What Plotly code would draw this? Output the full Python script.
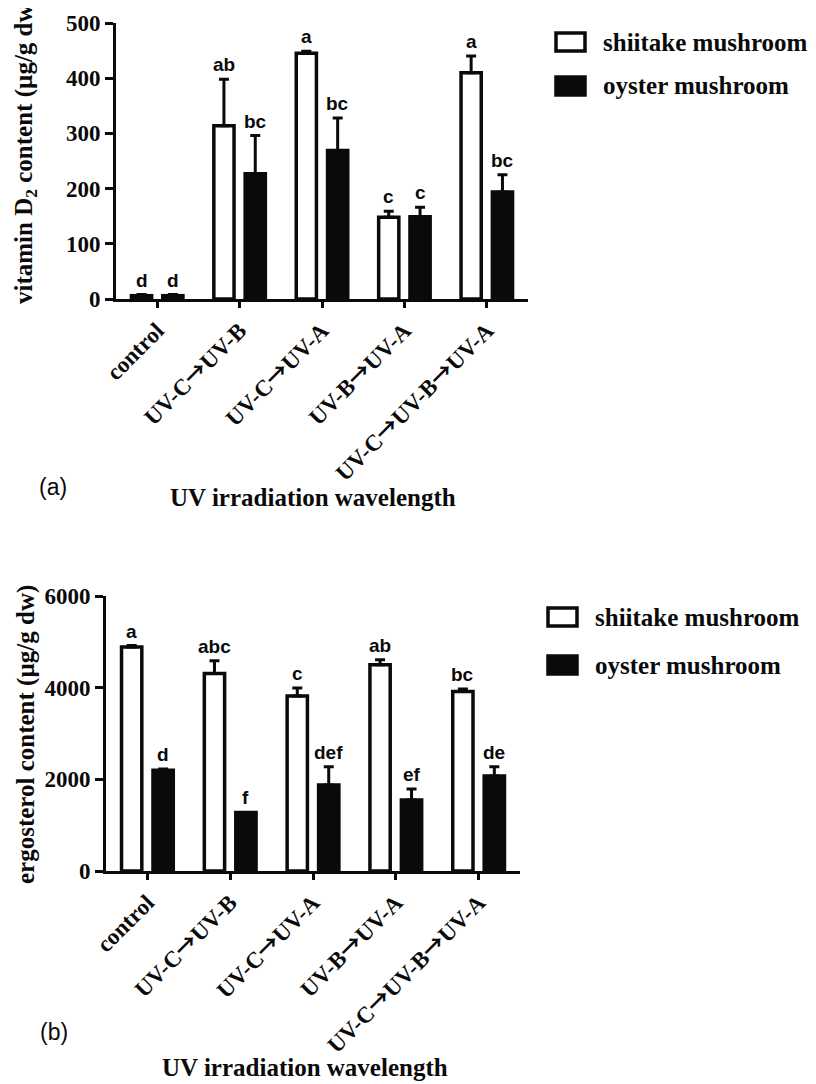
import plotly.graph_objects as go

categories = ["control", "UV-C→UV-B", "UV-C→UV-A", "UV-B→UV-A", "UV-C→UV-B→UV-A"]
series_names = ["shiitake mushroom", "oyster mushroom"]

# Panel (a): vitamin D2 content (µg/g dw)
vitd_shiitake = [6, 314, 445, 148, 410]
vitd_shiitake_err = [2, 84, 4, 11, 30]
vitd_oyster = [6, 227, 269, 149, 194]
vitd_oyster_err = [2, 69, 59, 17, 31]
vitd_shiitake_letters = ["d", "ab", "a", "c", "a"]
vitd_oyster_letters = ["d", "bc", "bc", "c", "bc"]

# Panel (b): ergosterol content (µg/g dw)
erg_shiitake = [4890, 4310, 3820, 4500, 3915]
erg_shiitake_err = [30, 275, 175, 110, 57]
erg_oyster = [2200, 1278, 1875, 1547, 2070]
erg_oyster_err = [25, 0, 400, 240, 203]
erg_shiitake_letters = ["a", "abc", "c", "ab", "bc"]
erg_oyster_letters = ["d", "f", "def", "ef", "de"]

# the page body has an 8px margin, so the figure starts at (8, 8)
OFF = 8
W, H = 816 - OFF, 1084 - OFF
def px(x):
    return (x - OFF) / W
def py(y):
    return 1 - (y - OFF) / H

SERIF = "Liberation Serif"
SANS = "Liberation Sans"
BLACK = "#0a0a0a"

ARROW = '<span style="font-family:\'Noto Sans CJK SC\'">→</span>'
tick_text = [c.replace("→", ARROW) for c in categories]

idx = list(range(len(categories)))
bar_w = 0.245
off = 0.19

fig = go.Figure()

def add_panel(xref, yref, s_vals, s_err, o_vals, o_err, s_let, o_let):
    fig.add_trace(go.Bar(
        x=idx, y=s_vals, name=series_names[0], xaxis=xref, yaxis=yref,
        width=bar_w, offset=-off - bar_w / 2,
        marker=dict(color="white", line=dict(color=BLACK, width=3.5)),
        error_y=dict(type="data", array=s_err, arrayminus=[0] * len(s_err),
                     symmetric=False, color=BLACK, thickness=3, width=5),
        showlegend=False))
    fig.add_trace(go.Bar(
        x=idx, y=o_vals, name=series_names[1], xaxis=xref, yaxis=yref,
        width=bar_w, offset=off - bar_w / 2,
        marker=dict(color=BLACK, line=dict(color=BLACK, width=3.5)),
        error_y=dict(type="data", array=o_err, arrayminus=[0] * len(o_err),
                     symmetric=False, color=BLACK, thickness=3, width=5),
        showlegend=False))
    for i in idx:
        for dx, v, e, t in ((-off, s_vals[i], s_err[i], s_let[i]),
                            (off, o_vals[i], o_err[i], o_let[i])):
            fig.add_annotation(x=i + dx, y=v + e, xref=xref, yref=yref,
                               text="<b>%s</b>" % t, showarrow=False, yanchor="bottom",
                               yshift=2,
                               font=dict(family=SANS, size=19, color=BLACK))

add_panel("x", "y", vitd_shiitake, vitd_shiitake_err, vitd_oyster, vitd_oyster_err,
          vitd_shiitake_letters, vitd_oyster_letters)
add_panel("x2", "y2", erg_shiitake, erg_shiitake_err, erg_oyster, erg_oyster_err,
          erg_shiitake_letters, erg_oyster_letters)

axis_common = dict(showline=True, linecolor=BLACK, linewidth=3, ticks="outside",
                   tickcolor=BLACK, tickwidth=3, showgrid=False, zeroline=False,
                   automargin=False,
                   tickfont=dict(family=SERIF, size=23, color=BLACK, weight="bold"))

fig.update_layout(
    width=W, height=H, margin=dict(l=0, r=0, t=0, b=0, autoexpand=False),
    paper_bgcolor="white", plot_bgcolor="white",
    xaxis=dict(domain=[px(116), px(528)], anchor="y", range=[-0.5, 4.5],
               tickvals=idx, ticktext=tick_text, tickangle=-45, ticklen=6,
               **axis_common),
    yaxis=dict(domain=[py(299), py(23)], anchor="x", range=[0, 500],
               tickvals=[0, 100, 200, 300, 400, 500], ticklen=8, **axis_common),
    xaxis2=dict(domain=[px(106), px(520)], anchor="y2", range=[-0.5, 4.5],
                tickvals=idx, ticktext=tick_text, tickangle=-45, ticklen=6,
                **axis_common),
    yaxis2=dict(domain=[py(871), py(596)], anchor="x2", range=[0, 6000],
                tickvals=[0, 2000, 4000, 6000], ticklen=8, **axis_common),
)

title_font = dict(family=SERIF, size=25, color=BLACK, weight="bold")

# axis titles
fig.add_annotation(x=px(313), y=py(497), xref="paper", yref="paper",
                   text="UV irradiation wavelength", showarrow=False,
                   xanchor="center", yanchor="middle", font=title_font)
fig.add_annotation(x=px(305), y=py(1067), xref="paper", yref="paper",
                   text="UV irradiation wavelength", showarrow=False,
                   xanchor="center", yanchor="middle", font=title_font)
fig.add_annotation(x=px(25), y=py(150), xref="paper", yref="paper",
                   text="vitamin D<sub>2</sub> content (µg/g dw)", showarrow=False,
                   textangle=-90, xanchor="center", yanchor="middle", font=title_font)
fig.add_annotation(x=px(26), y=py(735), xref="paper", yref="paper",
                   text="ergosterol content (µg/g dw)", showarrow=False,
                   textangle=-90, xanchor="center", yanchor="middle", font=title_font)

# panel labels
fig.add_annotation(x=px(37), y=py(487), xref="paper", yref="paper", text="(a)",
                   showarrow=False, font=dict(family=SANS, size=23, color=BLACK))
fig.add_annotation(x=px(38), y=py(1047), xref="paper", yref="paper", text="(b)",
                   showarrow=False, font=dict(family=SANS, size=23, color=BLACK))

# legends
def legend(x0, ys, xt):
    fills = ["white", BLACK]
    for (yc, name, fill) in zip(ys, series_names, fills):
        fig.add_shape(type="rect", xref="paper", yref="paper",
                      x0=px(x0), x1=px(x0 + 29), y0=py(yc - 9), y1=py(yc + 9),
                      fillcolor=fill, line=dict(color=BLACK, width=3.5))
        fig.add_annotation(x=px(xt), y=py(yc), xref="paper", yref="paper", text=name,
                           showarrow=False, xanchor="left", yanchor="middle",
                           font=title_font)

legend(556, [42, 86], 601)
legend(548, [617, 665], 593)

fig.write_html("out.html")
